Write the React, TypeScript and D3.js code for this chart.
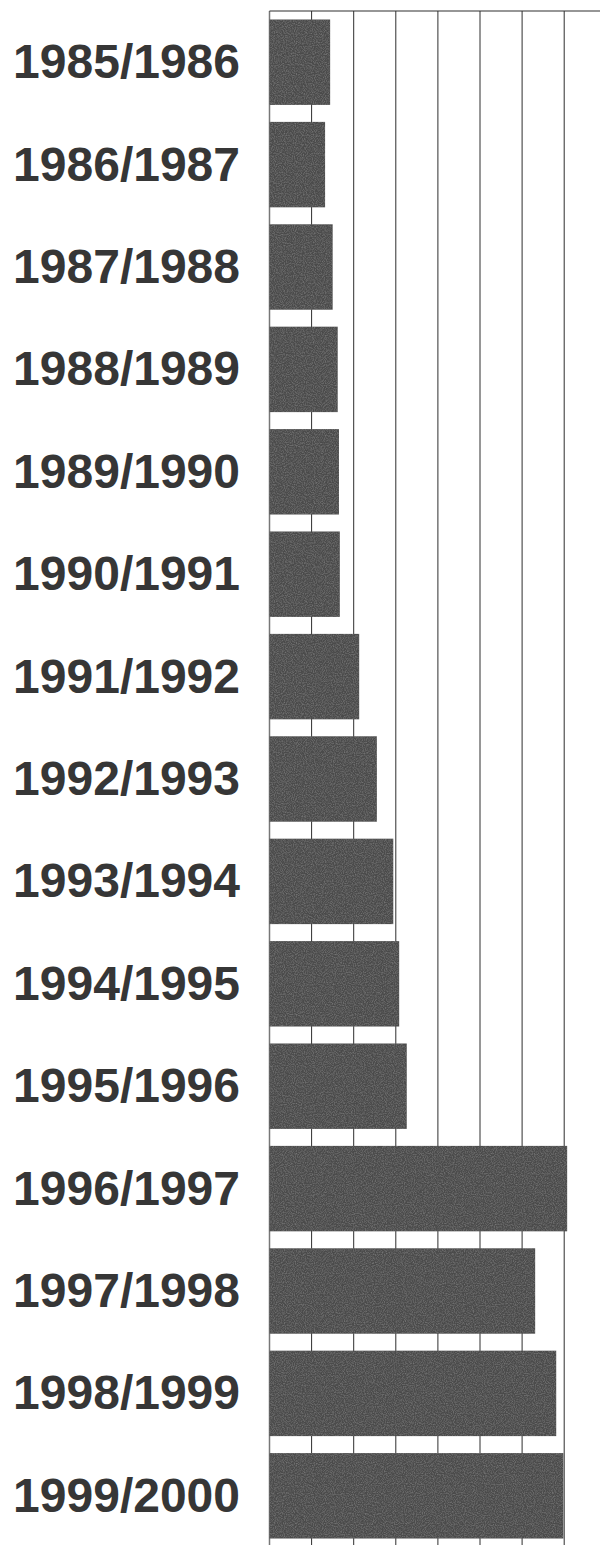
import React from "react";
import * as d3 from "d3";

// seasons, top to bottom
const seasons = [
  "1985/1986", "1986/1987", "1987/1988", "1988/1989", "1989/1990",
  "1990/1991", "1991/1992", "1992/1993", "1993/1994", "1994/1995",
  "1995/1996", "1996/1997", "1997/1998", "1998/1999", "1999/2000",
];

// one grid step = 10
const values = [
  14.4, 13.2, 15.0, 16.2, 16.5,
  16.7, 21.3, 25.5, 29.4, 30.8,
  32.6, 70.7, 63.1, 68.1, 69.8,
];

const gridTicks = [0, 10, 20, 30, 40, 50, 60, 70, 80];

const W = 600;
const H = 1545;

const App = () => {
  const left = 269.5;
  const x = d3.scaleLinear().domain([0, 10]).range([left, left + 42.1]);
  const y = d3
    .scaleBand()
    .domain(seasons)
    .range([11, 1547])
    .paddingInner(0.166)
    .paddingOuter(0.083);

  return (
    <svg
      width={W}
      height={H}
      style={{ position: "absolute", left: 0, top: 0, background: "#fff" }}
    >
      <defs>
        <filter id="grain" x="0" y="0" width="100%" height="100%">
          <feTurbulence type="fractalNoise" baseFrequency="0.9" numOctaves={2} seed={3} result="n" />
          <feColorMatrix
            in="n"
            type="matrix"
            values="0 0 0 0 0.3  0 0 0 0 0.3  0 0 0 0 0.3  0 0 0 -0.9 0.55"
            result="g"
          />
          <feComposite in="g" in2="SourceGraphic" operator="in" result="gg" />
          <feMerge>
            <feMergeNode in="SourceGraphic" />
            <feMergeNode in="gg" />
          </feMerge>
        </filter>
      </defs>

      {/* grid */}
      {gridTicks.map((t) => (
        <line
          key={`g${t}`}
          x1={x(t)}
          x2={x(t)}
          y1={11}
          y2={H}
          stroke={t === 0 ? "#777" : "#2e2e2e"}
          strokeWidth={t === 0 ? 1.5 : 1}
        />
      ))}
      <line x1={left} x2={W} y1={11} y2={11} stroke="#2e2e2e" strokeWidth={1.2} />

      {/* bars */}
      {seasons.map((s, i) => (
        <rect
          key={s}
          x={x(0)}
          y={y(s)}
          width={x(values[i]) - x(0)}
          height={y.bandwidth()}
          fill="#4b4b4b"
          filter="url(#grain)"
        />
      ))}

      {/* labels */}
      {seasons.map((s) => (
        <text
          key={`l${s}`}
          x={240}
          y={(y(s) ?? 0) + y.bandwidth() / 2 + 16}
          textAnchor="end"
          fontFamily="'Liberation Sans', Arial, sans-serif"
          fontWeight="bold"
          fontSize={48}
          fill="#363636"
        >
          {s}
        </text>
      ))}
    </svg>
  );
};

export default App;
